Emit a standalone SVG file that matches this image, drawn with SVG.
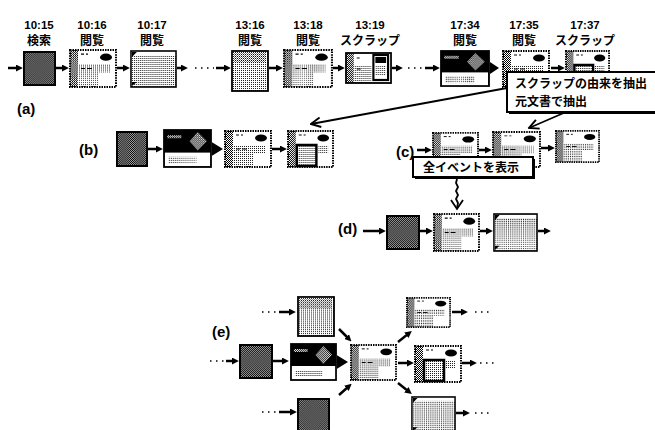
<svg xmlns="http://www.w3.org/2000/svg" xmlns:xlink="http://www.w3.org/1999/xlink" width="655" height="430" viewBox="0 0 655 430">
<style>
.tm{font-family:"Liberation Sans",Arial,sans-serif;font-weight:bold;font-size:11.5px;text-anchor:middle;fill:#000}
.jp{font-family:"Noto Sans CJK JP","Noto Sans CJK SC",sans-serif;font-weight:bold;font-size:12px;text-anchor:middle;fill:#000}
.lb{font-family:"Liberation Sans",Arial,sans-serif;font-weight:bold;font-size:15px;fill:#000}
.co{font-family:"Noto Sans CJK JP","Noto Sans CJK SC",sans-serif;font-weight:bold;font-size:12px;fill:#000}
.ar{stroke:#000;stroke-width:2.5;fill:none;marker-end:url(#ah)}
.dt{stroke:#000;stroke-width:1.5;stroke-dasharray:1.5 4.5;fill:none}
.cl{stroke:#000;stroke-width:1.8;fill:none}
.bx{fill:#fff;stroke:#000;stroke-width:2}
.sh{fill:#000}
</style>
<defs>
<pattern id="pd" width="2" height="2" patternUnits="userSpaceOnUse"><rect width="2" height="2" fill="#aaa"/><rect width="1" height="1"/><rect x="1" y="1" width="1" height="1"/></pattern>
<pattern id="pm" width="2" height="2" patternUnits="userSpaceOnUse"><rect width="2" height="2" fill="#fff"/><rect width="1" height="1"/><rect x="1" y="1" width="1" height="1"/></pattern>
<pattern id="pl" width="2" height="2" patternUnits="userSpaceOnUse"><rect width="2" height="2" fill="#fff"/><rect width="1" height="1" fill="#222"/></pattern>
<marker id="ah" viewBox="0 0 10 10" refX="3" refY="5" markerWidth="7" markerHeight="7" markerUnits="userSpaceOnUse" orient="auto"><path d="M0,0L10,5L0,10z"/></marker>
<marker id="av" viewBox="0 0 10 10" refX="9" refY="5" markerWidth="12" markerHeight="12" markerUnits="userSpaceOnUse" orient="auto"><path d="M1,1L9,5L1,9" fill="none" stroke="#000" stroke-width="1.6"/></marker>
<symbol id="t1" viewBox="0 0 34 36" preserveAspectRatio="none"><rect x="1" y="1" width="32" height="34" fill="url(#pd)" stroke="#000" stroke-width="2"/></symbol>
<symbol id="t2" viewBox="0 0 48 38" preserveAspectRatio="none"><rect width="48" height="38" fill="#fff"/><rect x="1" y="1" width="8" height="36" fill="url(#pm)"/><rect x="9" y="15" width="20" height="22" fill="url(#pl)"/><rect x="29" y="15" width="12" height="8" fill="url(#pl)"/><ellipse cx="37" cy="8" rx="6" ry="3.5"/><path d="M12 5h3M17 5h2M12 19h4M18 19h5" stroke="#000" stroke-width="1"/><rect x="1" y="1" width="46" height="36" fill="none" stroke="#000" stroke-width="2" stroke-dasharray="1.5 1"/></symbol>
<symbol id="t3" viewBox="0 0 48 38" preserveAspectRatio="none"><rect width="48" height="38" fill="#fff"/><rect x="1" y="5" width="46" height="32" fill="url(#pl)"/><path d="M2 2h5l-5 5z" fill="#000"/><path d="M2 36v-4h5z" fill="#000"/><rect x="1" y="1" width="46" height="36" fill="none" stroke="#000" stroke-width="1.6"/></symbol>
<symbol id="t4" viewBox="0 0 38 42" preserveAspectRatio="none"><rect x="1" y="1" width="36" height="40" fill="url(#pl)"/><rect x="3" y="3" width="32" height="10" fill="url(#pm)" opacity="0.5"/><rect x="1" y="1" width="36" height="40" fill="none" stroke="#000" stroke-width="1.8"/></symbol>
<symbol id="t5" viewBox="0 0 48 38" preserveAspectRatio="none"><rect width="48" height="38" fill="#fff"/><rect x="1" y="1" width="46" height="22" fill="#000"/><path d="M26 12l8-9 9 9-9 9z" fill="url(#pm)"/><rect x="4" y="6" width="14" height="3" fill="url(#pm)"/><rect x="5" y="27" width="28" height="7" fill="url(#pl)"/><rect x="1" y="1" width="46" height="36" fill="none" stroke="#000" stroke-width="1.8"/></symbol>
<symbol id="t6" viewBox="0 0 48 32" preserveAspectRatio="none"><rect width="48" height="32" fill="#fff"/><rect x="1" y="1" width="8" height="30" fill="url(#pm)"/><rect x="9" y="14" width="18" height="17" fill="url(#pl)"/><path d="M12 6h3M12 17h4" stroke="#000"/><rect x="29" y="3" width="15" height="25" fill="#fff" stroke="#000" stroke-width="2.2"/><rect x="31" y="5" width="11" height="6" fill="#000"/><rect x="31" y="14" width="11" height="10" fill="url(#pl)"/><rect x="1" y="1" width="46" height="30" fill="none" stroke="#000" stroke-width="1.8"/></symbol>
<symbol id="t7" viewBox="0 0 48 38" preserveAspectRatio="none"><rect width="48" height="38" fill="#fff"/><rect x="1" y="1" width="8" height="36" fill="url(#pm)"/><ellipse cx="37" cy="8" rx="6" ry="3.5"/><path d="M12 5h3M17 5h2" stroke="#000"/><rect x="32" y="15" width="10" height="8" fill="url(#pl)"/><rect x="10" y="15" width="20" height="21" fill="url(#pl)" stroke="#000" stroke-width="2.5"/><rect x="1" y="1" width="46" height="36" fill="none" stroke="#000" stroke-width="2" stroke-dasharray="1.5 1"/></symbol>
</defs>
<rect width="655" height="430" fill="#fff"/>

<g id="labels-top">
<text class="tm" x="39" y="29">10:15</text><text class="jp" x="39" y="45">検索</text>
<text class="tm" x="92" y="29">10:16</text><text class="jp" x="92" y="45">閲覧</text>
<text class="tm" x="152" y="29">10:17</text><text class="jp" x="152" y="45">閲覧</text>
<text class="tm" x="250" y="29">13:16</text><text class="jp" x="250" y="45">閲覧</text>
<text class="tm" x="308" y="29">13:18</text><text class="jp" x="308" y="45">閲覧</text>
<text class="tm" x="370" y="29">13:19</text><text class="jp" x="370" y="45">スクラップ</text>
<text class="tm" x="465" y="29">17:34</text><text class="jp" x="465" y="45">閲覧</text>
<text class="tm" x="524" y="29">17:35</text><text class="jp" x="524" y="45">閲覧</text>
<text class="tm" x="585" y="29">17:37</text><text class="jp" x="585" y="45">スクラップ</text>
</g>
<g id="section-labels">
<text class="lb" x="17" y="114">(a)</text>
<text class="lb" x="79" y="155">(b)</text>
<text class="lb" x="396" y="157">(c)</text>
<text class="lb" x="338" y="234">(d)</text>
<text class="lb" x="212" y="337">(e)</text>
</g>

<g id="connectors">
<line class="ar" x1="8" y1="68" x2="18" y2="68"/>
<line class="ar" x1="56" y1="68" x2="64" y2="68"/>
<line class="ar" x1="117" y1="68" x2="125" y2="68"/>
<line class="ar" x1="177" y1="68" x2="183" y2="68"/>
<line class="dt" x1="195" y1="68" x2="214" y2="68"/>
<line class="ar" x1="216" y1="68" x2="226" y2="68"/>
<line class="ar" x1="269" y1="68" x2="278" y2="68"/>
<line class="ar" x1="333" y1="68" x2="340" y2="68"/>
<line class="ar" x1="392" y1="68" x2="398" y2="68"/>
<line class="dt" x1="408" y1="68" x2="423" y2="68"/>
<line class="ar" x1="425" y1="68" x2="435" y2="68"/>
<polygon points="487,60 499,68 487,76"/>
<line class="ar" x1="551" y1="68" x2="560" y2="68"/>

<line class="ar" x1="148" y1="149" x2="158" y2="149"/>
<polygon points="210,141 223,149 210,157"/>
<line class="ar" x1="272" y1="149" x2="282" y2="149"/>

<line class="ar" x1="417" y1="150" x2="427" y2="150"/>
<line class="ar" x1="479" y1="150" x2="487" y2="150"/>
<line class="ar" x1="541" y1="148" x2="550" y2="148"/>

<line class="cl" x1="507" y1="88" x2="311" y2="124" marker-end="url(#av)"/>
<line class="cl" x1="566" y1="112" x2="529" y2="128" marker-end="url(#av)"/>
<polyline class="cl" points="457,179 456,183 458,187 456,191 458,195 456,199 458,203 457,208"/>
<polyline class="cl" points="451,200 457,209 463,200"/>

<line class="ar" x1="363" y1="231" x2="381" y2="231"/>
<line class="ar" x1="420" y1="231" x2="428" y2="231"/>
<line class="ar" x1="480" y1="231" x2="488" y2="231"/>
<line class="ar" x1="538" y1="231" x2="546" y2="231"/>

<line class="dt" x1="262" y1="312" x2="278" y2="312"/>
<line class="ar" x1="279" y1="312" x2="291" y2="312"/>
<line class="dt" x1="210" y1="361" x2="225" y2="361"/>
<line class="ar" x1="226" y1="361" x2="234" y2="361"/>
<line class="ar" x1="273" y1="361" x2="284" y2="361"/>
<polygon points="335,354 348,362 335,370"/>
<line class="dt" x1="262" y1="412" x2="278" y2="412"/>
<line class="ar" x1="279" y1="412" x2="292" y2="412"/>
<line class="ar" x1="339" y1="329" x2="348" y2="338"/>
<line class="ar" x1="339" y1="395" x2="348" y2="387"/>
<line class="ar" x1="398" y1="342" x2="408" y2="334"/>
<line class="ar" x1="398" y1="363" x2="409" y2="363"/>
<line class="ar" x1="398" y1="383" x2="408" y2="391"/>
<line class="ar" x1="452" y1="312" x2="463" y2="312"/>
<line class="dt" x1="475" y1="312" x2="490" y2="312"/>
<line class="ar" x1="462" y1="363" x2="472" y2="363"/>
<line class="dt" x1="480" y1="363" x2="496" y2="363"/>
<line class="ar" x1="456" y1="413" x2="465" y2="413"/>
<line class="dt" x1="475" y1="413" x2="490" y2="413"/>
</g>

<g id="a1"><use xlink:href="#t1" x="23" y="51" width="33" height="35"/></g>
<g id="a2"><use xlink:href="#t2" x="69" y="49" width="48" height="39"/></g>
<g id="a3"><use xlink:href="#t3" x="130" y="50" width="47" height="38"/></g>
<g id="a4"><use xlink:href="#t4" x="231" y="50" width="38" height="42"/></g>
<g id="a5"><use xlink:href="#t2" x="283" y="49" width="50" height="39"/></g>
<g id="a6"><use xlink:href="#t6" x="345" y="52" width="47" height="32"/></g>
<g id="a7"><use xlink:href="#t5" x="440" y="50" width="50" height="37"/></g>
<g id="a8"><use xlink:href="#t2" x="502" y="50" width="48" height="38"/></g>
<g id="a9"><use xlink:href="#t7" x="565" y="50" width="45" height="38"/></g>

<g id="b1"><use xlink:href="#t1" x="116" y="131" width="32" height="36"/></g>
<g id="b2"><use xlink:href="#t5" x="163" y="129" width="49" height="39"/></g>
<g id="b3"><use xlink:href="#t2" x="224" y="130" width="48" height="38"/></g>
<g id="b4"><use xlink:href="#t7" x="287" y="130" width="47" height="38"/></g>

<g id="c1"><use xlink:href="#t2" x="432" y="132" width="47" height="35"/></g>
<g id="c2"><use xlink:href="#t2" x="492" y="131" width="49" height="37"/></g>
<g id="c3"><use xlink:href="#t2" x="555" y="130" width="45" height="33"/></g>

<g id="callout-origin">
<rect class="sh" x="509" y="74" width="150" height="40"/>
<rect class="bx" x="507" y="72" width="150" height="40"/>
<text class="co" x="515" y="88">スクラップの由来を抽出</text>
<text class="co" x="515" y="106">元文書で抽出</text>
</g>
<g id="callout-all">
<rect class="sh" x="415" y="159" width="120" height="20"/>
<rect class="bx" x="413" y="157" width="120" height="20"/>
<text class="co" x="423" y="172">全イベントを表示</text>
</g>

<g id="d1"><use xlink:href="#t1" x="386" y="215" width="34" height="35"/></g>
<g id="d2"><use xlink:href="#t2" x="433" y="213" width="47" height="39"/></g>
<g id="d3"><use xlink:href="#t3" x="493" y="213" width="45" height="39"/></g>

<g id="e-top"><use xlink:href="#t4" x="297" y="296" width="38" height="41"/></g>
<g id="e-dark"><use xlink:href="#t1" x="239" y="344" width="34" height="35"/></g>
<g id="e-mix"><use xlink:href="#t5" x="290" y="343" width="47" height="38"/></g>
<g id="e-center"><use xlink:href="#t2" x="350" y="344" width="47" height="37"/></g>
<g id="e-bot"><use xlink:href="#t1" x="297" y="398" width="33" height="35"/></g>
<g id="e-r1"><use xlink:href="#t2" x="406" y="297" width="45" height="31"/></g>
<g id="e-r2"><use xlink:href="#t7" x="414" y="345" width="48" height="38"/></g>
<g id="e-r3"><use xlink:href="#t3" x="411" y="396" width="45" height="37"/></g>
</svg>
